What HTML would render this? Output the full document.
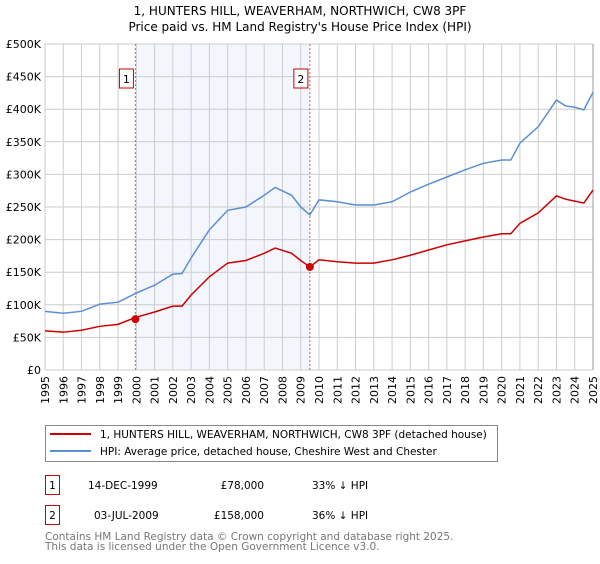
<!DOCTYPE html>
<html><head><meta charset="utf-8"><style>
body{margin:0;width:600px;height:560px;background:#fff;font-family:"DejaVu Sans","Liberation Sans",sans-serif;overflow:hidden}
svg text{font-family:"DejaVu Sans","Liberation Sans",sans-serif}
</style></head><body>
<svg id="c" width="600" height="560">
<text x="300" y="15" text-anchor="middle" font-size="12">1, HUNTERS HILL, WEAVERHAM, NORTHWICH, CW8 3PF</text>
<text x="300" y="31" text-anchor="middle" font-size="12">Price paid vs. HM Land Registry's House Price Index (HPI)</text>
<g id="plot"></g>
<g>
<rect x="45.5" y="425.5" width="452" height="36" fill="#fff" stroke="#888"/>
<line x1="50" y1="434" x2="91" y2="434" stroke="#cc0000" stroke-width="2"/>
<text x="100" y="438" font-size="10.5">1, HUNTERS HILL, WEAVERHAM, NORTHWICH, CW8 3PF (detached house)</text>
<line x1="50" y1="451" x2="91" y2="451" stroke="#5b8fd4" stroke-width="2"/>
<text x="100" y="455" font-size="10.5">HPI: Average price, detached house, Cheshire West and Chester</text>
</g>
<g font-size="10.5">
<rect x="45.5" y="475.5" width="14" height="19" fill="#fff" stroke="#cc0000"/>
<text x="52.5" y="489" text-anchor="middle">1</text>
<text x="88" y="489">14-DEC-1999</text>
<text x="264" y="489" text-anchor="end">£78,000</text>
<text x="312" y="489">33% ↓ HPI</text>
<rect x="45.5" y="505.5" width="14" height="19" fill="#fff" stroke="#cc0000"/>
<text x="52.5" y="519" text-anchor="middle">2</text>
<text x="94" y="519">03-JUL-2009</text>
<text x="264" y="519" text-anchor="end">£158,000</text>
<text x="312" y="519">36% ↓ HPI</text>
</g>
<text x="45" y="540" font-size="10.5" fill="#777">Contains HM Land Registry data © Crown copyright and database right 2025.</text>
<text x="45" y="550" font-size="10.5" fill="#777">This data is licensed under the Open Government Licence v3.0.</text>
</svg>
<script>
const years=[1995,1996,1997,1998,1999,2000,2001,2002,2002.5,2003,2004,2005,2006,2007,2007.6,2008.5,2009,2009.5,2010,2011,2012,2013,2014,2015,2016,2017,2018,2019,2020,2020.5,2021,2022,2023,2023.5,2024,2024.5,2025];
const hpiValues=[90,87,90,101,104,118,130,147,148,172,215,245,250,268,280,268,250,238,261,258,253,253,258,273,285,296,307,317,322,322,348,373,414,405,403,399,426];
const priceValues=[60,58,61,67,70,81,89,98,98,115,143,164,168,179,187,179,168,158,169,166,164,164,169,176,184,192,198,204,209,209,225,241,267,262,259,256,276];
const yTicks=[0,50000,100000,150000,200000,250000,300000,350000,400000,450000,500000];
const yTickLabels=["£0","£50K","£100K","£150K","£200K","£250K","£300K","£350K","£400K","£450K","£500K"];
const saleDates=[1999.95,2009.5];
const salePrices=[78,158];
const saleLabels=["1","2"];
const L=45,R=593,T=44,B=370;
const x=v=>L+(v-1995)/30*(R-L);
const y=v=>B-v/500*(B-T);
const NS="http://www.w3.org/2000/svg";
const g=document.getElementById('plot');
function mk(t,a){const e=document.createElementNS(NS,t);for(const k in a)e.setAttribute(k,a[k]);g.appendChild(e);return e;}
let sh=mk('rect',{x:x(saleDates[0]),y:T,width:x(saleDates[1])-x(saleDates[0]),height:B-T,fill:'#eef3fc',opacity:0.7});


for(let yr=1995;yr<=2025;yr++){
 let l=mk('line',{x1:x(yr),x2:x(yr),y1:T,y2:B,stroke:'#ccc'});
 
 
 let t=mk('text',{x:0,y:0,'font-size':11,'text-anchor':'end',transform:`translate(${x(yr)+4},${B+6}) rotate(-90)`});
 t.textContent=yr;
 
 
}
yTicks.forEach((v,i)=>{
 let l=mk('line',{x1:L,x2:R,y1:y(v/1000),y2:y(v/1000),stroke:'#ccc'});
 
 
 let t=mk('text',{x:L-4,y:y(v/1000)+4,'font-size':11,'text-anchor':'end'});
 t.textContent=yTickLabels[i];
 
 
});
let rb=mk('line',{x1:R,x2:R,y1:T,y2:B,stroke:'#999'});


saleDates.forEach((d,i)=>{
 let l=mk('line',{x1:x(d),x2:x(d),y1:T,y2:B,stroke:'#e06060','stroke-dasharray':'2,2'});
 
 
 let r=mk('rect',{x:x(d)-16,y:69,width:14,height:19,fill:'#fff',stroke:'#cc0000'});
 
 
 let t=mk('text',{x:x(d)-9,y:83,'font-size':11,'text-anchor':'middle'});
 t.textContent=saleLabels[i];
 
 
});
let hp=mk('polyline',{points:years.map((v,i)=>x(v)+','+y(hpiValues[i])).join(' '),fill:'none',stroke:'#5b8fd4','stroke-width':1.5});


let pp=mk('polyline',{points:years.map((v,i)=>x(v)+','+y(priceValues[i])).join(' '),fill:'none',stroke:'#cc0000','stroke-width':1.5});


saleDates.forEach((d,i)=>{
 let c=mk('circle',{cx:x(d),cy:y(salePrices[i]),r:4,fill:'#cc0000'});
 
 
});
</script>
</body></html>
